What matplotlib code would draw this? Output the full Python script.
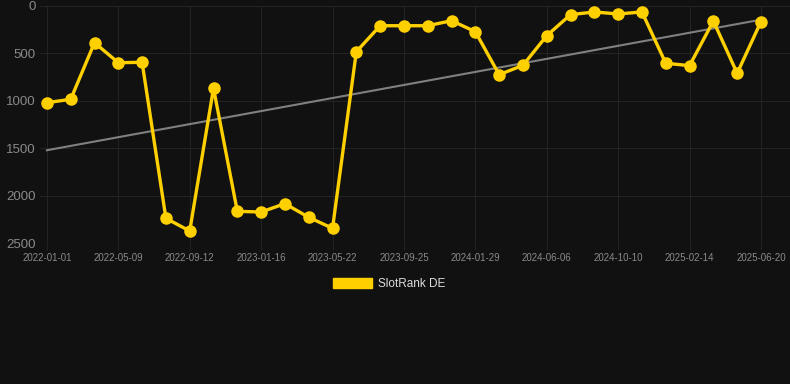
import matplotlib
matplotlib.use("Agg")
import matplotlib.pyplot as plt
from matplotlib.patches import Patch
import numpy as np

plt.rcParams['font.family'] = ['Liberation Sans', 'DejaVu Sans']

series_name = "SlotRank DE"
ranks = [1020, 984, 387, 598, 594, 2240, 2373, 868, 2166, 2173, 2085, 2229, 2345,
         482, 208, 208, 208, 155, 271, 724, 626, 313, 91, 63, 84, 63, 604, 629,
         158, 710, 165]
tick_labels = ["2022-01-01", "2022-05-09", "2022-09-12", "2023-01-16", "2023-05-22",
               "2023-09-25", "2024-01-29", "2024-06-06", "2024-10-10", "2025-02-14",
               "2025-06-20"]
y_ticks = [0, 500, 1000, 1500, 2000, 2500]

bg = "#111111"
grid_c = "#232323"
fig = plt.figure(figsize=(7.9, 3.84), dpi=100, facecolor=bg)
ax = fig.add_axes([40/790, 1-243/384, 750/790, 237/384], facecolor=bg)

x = np.arange(len(ranks))
coef = np.polyfit(x, ranks, 1)
trend = np.polyval(coef, x)
ax.plot(x, trend, color="#808080", lw=1.5, zorder=2)
ax.plot(x, ranks, color="#FFD000", lw=2.4, marker="o", ms=8, zorder=3)

step = (len(ranks) - 1) // (len(tick_labels) - 1)
ax.set_xticks(x[::step])
ax.set_xticklabels(tick_labels)
ax.set_yticks(y_ticks)
ax.set_ylim(2500, 0)
ax.set_xlim(-0.29, 31.22)

ax.grid(True, color=grid_c, lw=0.8)
for s in ax.spines.values():
    s.set_visible(False)
ax.tick_params(axis='x', colors=grid_c, labelcolor="#8a8a8a", labelsize=7, length=5, pad=2)
ax.tick_params(axis='y', length=0, labelcolor="#8a8a8a", labelsize=9.5, pad=3)

leg = fig.legend(handles=[Patch(facecolor="#FFD000", edgecolor="#FFD000", label=series_name)],
                 loc="center", bbox_to_anchor=(0.5 - 5.5/790, 1-284/384), frameon=False,
                 handlelength=3.3, handleheight=1.0, handletextpad=0.5, fontsize=8.5)
for t in leg.get_texts():
    t.set_color("#dddddd")

fig.savefig("out.png", dpi=100, facecolor=bg)
